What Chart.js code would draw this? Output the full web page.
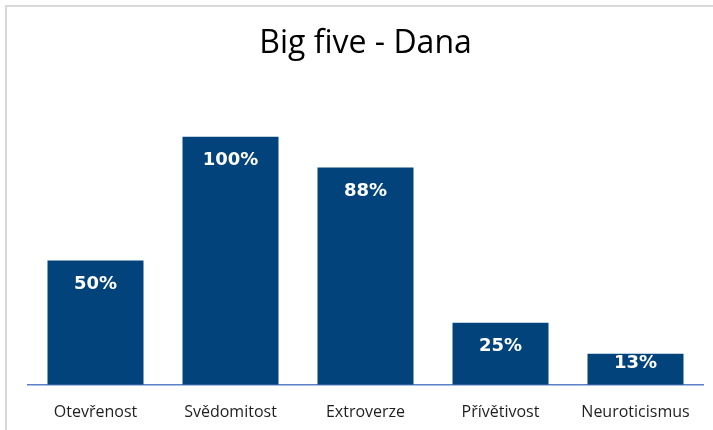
<!DOCTYPE html>
<html>
<head>
<meta charset="utf-8">
<script src="https://cdn.jsdelivr.net/npm/chart.js@4/dist/chart.umd.min.js"></script>
<style>
  html, body { margin: 0; padding: 0; background: #fff; overflow: hidden; }
  #wrap { position: relative; width: 713px; height: 430px; }
  #frame { position: absolute; left: 5px; top: 5px; width: 760px; height: 480px; border: 2px solid #d9d9d9; box-sizing: border-box; }
  canvas { position: absolute; left: 0; top: 0; }
</style>
</head>
<body>
<div id="wrap">
  <div id="frame"></div>
  <canvas id="c" width="713" height="430"></canvas>
</div>
<script>
const titleText = "Big five - Dana";
const categories = ["Otevřenost", "Svědomitost", "Extroverze", "Přívětivost", "Neuroticismus"];
const values = [50, 100, 87.5, 25, 12.5];
const barColor = "#02437B";

const barLabels = {
  id: "barLabels",
  afterDatasetsDraw(chart) {
    const ctx = chart.ctx;
    const meta = chart.getDatasetMeta(0);
    ctx.save();
    ctx.fillStyle = "#ffffff";
    ctx.font = "bold 18px 'DejaVu Sans'";
    ctx.textAlign = "center";
    ctx.textBaseline = "middle";
    meta.data.forEach((el, i) => {
      const v = chart.data.datasets[0].data[i];
      const h = el.base - el.y;
      const off = Math.min(24, h / 2 - 6);
      ctx.fillText(Math.round(v) + "%", el.x, el.y + off);
    });
    ctx.restore();
  }
};

new Chart(document.getElementById("c"), {
  type: "bar",
  data: {
    labels: categories,
    datasets: [{
      data: values,
      backgroundColor: barColor,
      borderWidth: 0,
      barPercentage: 0.711,
      categoryPercentage: 1.0
    }]
  },
  options: {
    responsive: false,
    animation: false,
    devicePixelRatio: 1,
    layout: { padding: { left: 28, right: 10, top: 0, bottom: -10 } },
    plugins: {
      legend: { display: false },
      tooltip: { enabled: false },
      title: {
        display: true,
        text: titleText,
        color: "#000000",
        font: { family: "'Open Sans'", size: 32, weight: "normal" },
        padding: { top: 25, bottom: 73 }
      }
    },
    scales: {
      x: {
        grid: { display: false, drawTicks: false },
        border: { display: true, color: "#5B80C8", width: 1.5 },
        ticks: {
          color: "#1f1f1f",
          padding: 18,
          font: { family: "'Open Sans'", size: 16 },
          maxRotation: 0
        }
      },
      y: {
        display: false,
        min: 0,
        max: 100
      }
    }
  },
  plugins: [barLabels]
});
</script>
</body>
</html>
